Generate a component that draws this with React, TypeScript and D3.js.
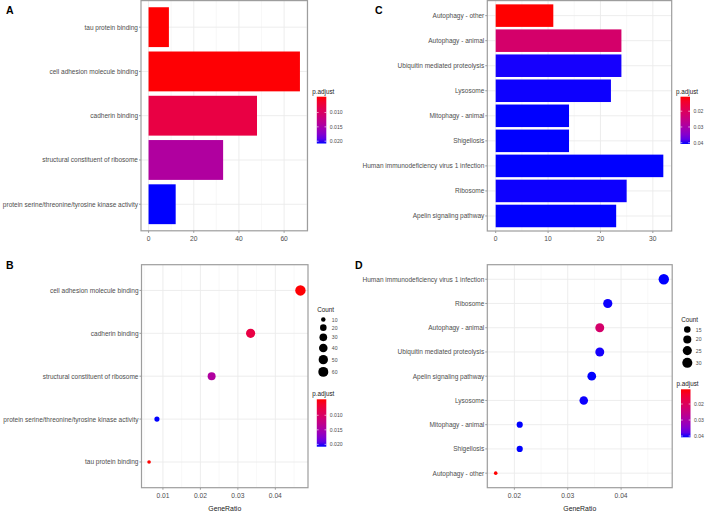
import React from "react";
import * as d3 from "d3";

// ---------- Data ----------
// Panel A (GO bar plot), top -> bottom
const A_terms = [
  "tau protein binding",
  "cell adhesion molecule binding",
  "cadherin binding",
  "structural constituent of ribosome",
  "protein serine/threonine/tyrosine kinase activity",
];
const A_counts = [9, 67, 48, 33, 12];
const A_padj = [0.0045, 0.0046, 0.0078, 0.0143, 0.0208];
const A_ticks = [0, 20, 40, 60];
const A_legendTicks = [0.01, 0.015, 0.02];

// Panel B (GO dot plot), top -> bottom
const B_terms = [
  "cell adhesion molecule binding",
  "cadherin binding",
  "structural constituent of ribosome",
  "protein serine/threonine/tyrosine kinase activity",
  "tau protein binding",
];
const B_ratio = [0.0467, 0.0334, 0.023, 0.0084, 0.0063];
const B_counts = [67, 48, 33, 12, 9];
const B_padj = [0.0046, 0.0078, 0.0143, 0.0208, 0.0045];
const B_ticks = [0.01, 0.02, 0.03, 0.04];
const B_sizeTicks = [10, 20, 30, 40, 50, 60];

// Panel C (KEGG bar plot), top -> bottom
const C_terms = [
  "Autophagy - other",
  "Autophagy - animal",
  "Ubiquitin mediated proteolysis",
  "Lysosome",
  "Mitophagy - animal",
  "Shigellosis",
  "Human immunodeficiency virus 1 infection",
  "Ribosome",
  "Apelin signaling pathway",
];
const C_counts = [11, 24, 24, 22, 14, 14, 32, 25, 23];
const C_padj = [0.0108, 0.0218, 0.0406, 0.0407, 0.0408, 0.0408, 0.0408, 0.0407, 0.0408];
const C_ticks = [0, 10, 20, 30];
const C_legendTicks = [0.02, 0.03, 0.04];

// Panel D (KEGG dot plot), top -> bottom
const D_terms = [
  "Human immunodeficiency virus 1 infection",
  "Ribosome",
  "Autophagy - animal",
  "Ubiquitin mediated proteolysis",
  "Apelin signaling pathway",
  "Lysosome",
  "Mitophagy - animal",
  "Shigellosis",
  "Autophagy - other",
];
const D_ratio = [0.048, 0.0375, 0.036, 0.036, 0.0345, 0.033, 0.021, 0.021, 0.0165];
const D_counts = [32, 25, 24, 24, 23, 22, 14, 14, 11];
const D_padj = [0.0408, 0.0407, 0.0218, 0.0406, 0.0408, 0.0407, 0.0408, 0.0408, 0.0108];
const D_ticks = [0.02, 0.03, 0.04];
const D_sizeTicks = [15, 20, 25, 30];

// ---------- Styles ----------
const FONT = "'Liberation Sans', Arial, sans-serif";
const AXIS_TEXT = "#4d4d4d";
const GRID_MAJOR = "#ebebeb";
const GRID_MINOR = "#f4f4f4";
const FRAME = "#9d9d9d";
const AX_FS = 6.5;

function colorScale(dom: [number, number]) {
  return d3
    .scaleLinear<string>()
    .domain(dom)
    .range(["#ff0000", "#0000ff"])
    .interpolate(d3.interpolateLab)
    .clamp(true);
}

function sizeScale(dom: [number, number], rmin: number, rmax: number) {
  return (c: number) => rmin + (rmax - rmin) * Math.sqrt(Math.max(0, (c - dom[0]) / (dom[1] - dom[0])));
}

type Frame = { x0: number; x1: number; y0: number; y1: number };

function minorTicks(ticks: number[], domain: number[]) {
  const step = ticks[1] - ticks[0];
  const out: number[] = [];
  const start = ticks[0] - step / 2;
  for (let v = start; v <= domain[1] + 1e-12; v += step) {
    if (v >= domain[0]) out.push(+v.toFixed(6));
  }
  return out;
}

function PanelFrame({
  f,
  terms,
  x,
  y,
  ticks,
  fmt,
  xTitle,
}: {
  f: Frame;
  terms: string[];
  x: d3.ScaleLinear<number, number>;
  y: d3.ScalePoint<string>;
  ticks: number[];
  fmt: (v: number) => string;
  xTitle?: string;
}) {
  const minors = minorTicks(ticks, x.domain());
  return (
    <g>
      <rect x={f.x0} y={f.y0} width={f.x1 - f.x0} height={f.y1 - f.y0} fill="#fff" />
      {minors.map((m) => (
        <line key={"mi" + m} x1={x(m)} x2={x(m)} y1={f.y0} y2={f.y1} stroke={GRID_MINOR} strokeWidth={0.6} />
      ))}
      {ticks.map((t) => (
        <line key={"ma" + t} x1={x(t)} x2={x(t)} y1={f.y0} y2={f.y1} stroke={GRID_MAJOR} strokeWidth={0.9} />
      ))}
      {terms.map((t) => (
        <line key={"hy" + t} x1={f.x0} x2={f.x1} y1={y(t)} y2={y(t)} stroke={GRID_MAJOR} strokeWidth={0.9} />
      ))}
      {terms.map((t) => (
        <g key={"yl" + t}>
          <line x1={f.x0 - 2} x2={f.x0} y1={y(t)} y2={y(t)} stroke="#555" strokeWidth={0.6} />
          <text
            x={f.x0 - 3}
            y={y(t)}
            textAnchor="end"
            dominantBaseline="central"
            fontSize={AX_FS}
            fill={AXIS_TEXT}
            fontFamily={FONT}
          >
            {t}
          </text>
        </g>
      ))}
      {ticks.map((t) => (
        <g key={"xl" + t}>
          <line x1={x(t)} x2={x(t)} y1={f.y1} y2={f.y1 + 2} stroke="#555" strokeWidth={0.6} />
          <text
            x={x(t)}
            y={f.y1 + 7.5}
            textAnchor="middle"
            dominantBaseline="central"
            fontSize={6.7}
            fill={AXIS_TEXT}
            fontFamily={FONT}
          >
            {fmt(t)}
          </text>
        </g>
      ))}
      {xTitle && (
        <text
          x={(f.x0 + f.x1) / 2}
          y={f.y1 + 20.5}
          textAnchor="middle"
          dominantBaseline="central"
          fontSize={6.9}
          fill="#222"
          fontFamily={FONT}
        >
          {xTitle}
        </text>
      )}
    </g>
  );
}

function Border({ f }: { f: Frame }) {
  return (
    <rect x={f.x0} y={f.y0} width={f.x1 - f.x0} height={f.y1 - f.y0} fill="none" stroke={FRAME} strokeWidth={1.2} />
  );
}

function ColorBar({
  id,
  x,
  top,
  bottom,
  dom,
  ticks,
  fmt,
}: {
  id: string;
  x: number;
  top: number;
  bottom: number;
  dom: [number, number];
  ticks: number[];
  fmt: (v: number) => string;
}) {
  const cs = colorScale(dom);
  const ys = d3.scaleLinear().domain(dom).range([top, bottom]);
  const w = 9.5;
  const stops = d3.range(0, 1.0001, 0.1);
  return (
    <g>
      <defs>
        <linearGradient id={id} x1="0" y1="0" x2="0" y2="1">
          {stops.map((s) => (
            <stop key={s} offset={s} stopColor={cs(dom[0] + s * (dom[1] - dom[0]))} />
          ))}
        </linearGradient>
      </defs>
      <text x={x - 4.5} y={top - 5.5} fontSize={6.3} fill="#222" fontFamily={FONT} dominantBaseline="central">
        p.adjust
      </text>
      <rect x={x} y={top} width={w} height={bottom - top} fill={`url(#${id})`} />
      {ticks.map((t) => (
        <g key={t}>
          <line x1={x} x2={x + 1.8} y1={ys(t)} y2={ys(t)} stroke="#fff" strokeWidth={0.6} />
          <line x1={x + w - 1.8} x2={x + w} y1={ys(t)} y2={ys(t)} stroke="#fff" strokeWidth={0.6} />
          <text
            x={x + w + 3.5}
            y={ys(t)}
            fontSize={5.1}
            fill={AXIS_TEXT}
            fontFamily={FONT}
            dominantBaseline="central"
          >
            {fmt(t)}
          </text>
        </g>
      ))}
    </g>
  );
}

function SizeLegend({
  x,
  top,
  values,
  r,
}: {
  x: number;
  top: number;
  values: number[];
  r: (c: number) => number;
}) {
  let cy = top + 6;
  const items = values.map((v, i) => {
    const rr = r(v);
    if (i > 0) cy += r(values[i - 1]) + rr + 2.6;
    return { v, rr, cy };
  });
  return (
    <g>
      <text x={x - 6} y={top - 4.5} fontSize={6.3} fill="#222" fontFamily={FONT} dominantBaseline="central">
        Count
      </text>
      {items.map((it) => (
        <g key={it.v}>
          <circle cx={x} cy={it.cy} r={it.rr} fill="#000" />
          <text x={x + 8.5} y={it.cy} fontSize={5.1} fill={AXIS_TEXT} fontFamily={FONT} dominantBaseline="central">
            {it.v}
          </text>
        </g>
      ))}
    </g>
  );
}

function BarPanel({
  f,
  terms,
  counts,
  padj,
  ticks,
  cdom,
}: {
  f: Frame;
  terms: string[];
  counts: number[];
  padj: number[];
  ticks: number[];
  cdom: [number, number];
}) {
  const max = d3.max(counts) as number;
  const x = d3.scaleLinear().domain([-0.05 * max, max * 1.05]).range([f.x0, f.x1]);
  const y = d3.scalePoint<string>().domain(terms).range([f.y0, f.y1]).padding(0.6);
  const bw = y.step() * 0.9;
  const cs = colorScale(cdom);
  return (
    <g>
      <PanelFrame f={f} terms={terms} x={x} y={y} ticks={ticks} fmt={(v) => String(v)} />
      {terms.map((t, i) => (
        <rect
          key={t}
          x={x(0)}
          y={(y(t) as number) - bw / 2}
          width={x(counts[i]) - x(0)}
          height={bw}
          fill={cs(padj[i])}
        />
      ))}
      <Border f={f} />
    </g>
  );
}

function DotPanel({
  f,
  terms,
  ratio,
  counts,
  padj,
  ticks,
  cdom,
  r,
  fmt,
}: {
  f: Frame;
  terms: string[];
  ratio: number[];
  counts: number[];
  padj: number[];
  ticks: number[];
  cdom: [number, number];
  r: (c: number) => number;
  fmt: (v: number) => string;
}) {
  const [mn, mx] = d3.extent(ratio) as [number, number];
  const pad = (mx - mn) * 0.05;
  const x = d3.scaleLinear().domain([mn - pad, mx + pad]).range([f.x0, f.x1]);
  const y = d3.scalePoint<string>().domain(terms).range([f.y0, f.y1]).padding(0.6);
  const cs = colorScale(cdom);
  return (
    <g>
      <PanelFrame f={f} terms={terms} x={x} y={y} ticks={ticks} fmt={fmt} xTitle="GeneRatio" />
      {terms.map((t, i) => (
        <circle key={t} cx={x(ratio[i])} cy={y(t) as number} r={r(counts[i])} fill={cs(padj[i])} />
      ))}
      <Border f={f} />
    </g>
  );
}

function Letter({ x, y, s }: { x: number; y: number; s: string }) {
  return (
    <text x={x} y={y} fontSize={10.5} fontWeight="bold" fill="#000" fontFamily={FONT}>
      {s}
    </text>
  );
}

export default function App() {
  const fA: Frame = { x0: 141, x1: 307.5, y0: 0.6, y1: 230.8 };
  const fB: Frame = { x0: 141.5, x1: 308, y0: 264.7, y1: 487.7 };
  const fC: Frame = { x0: 487.3, x1: 671.7, y0: 0.6, y1: 231 };
  const fD: Frame = { x0: 487.3, x1: 672.2, y0: 264.7, y1: 487.7 };

  const domAB: [number, number] = [0.0045, 0.0208];
  const domCD: [number, number] = [0.0108, 0.0408];
  const rB = sizeScale([9, 67], 1.8, 5.2);
  const rD = sizeScale([11, 32], 1.8, 5.2);
  const fmt3 = (v: number) => v.toFixed(3);
  const fmt2 = (v: number) => v.toFixed(2);

  return (
    <svg
      width={709}
      height={513}
      style={{ position: "absolute", left: 0, top: 0, background: "#fff" }}
      fontFamily={FONT}
    >
      <rect width={709} height={513} fill="#fff" />
      <BarPanel f={fA} terms={A_terms} counts={A_counts} padj={A_padj} ticks={A_ticks} cdom={domAB} />
      <ColorBar id="gA" x={316.8} top={96.7} bottom={143.5} dom={domAB} ticks={A_legendTicks} fmt={fmt3} />
      <Letter x={6} y={14} s="A" />

      <DotPanel
        f={fB}
        terms={B_terms}
        ratio={B_ratio}
        counts={B_counts}
        padj={B_padj}
        ticks={B_ticks}
        cdom={domAB}
        r={rB}
        fmt={fmt2}
      />
      <SizeLegend x={323.3} top={313.5} values={B_sizeTicks} r={rB} />
      <ColorBar id="gB" x={316.8} top={399.3} bottom={446.7} dom={domAB} ticks={A_legendTicks} fmt={fmt3} />
      <Letter x={6} y={268.5} s="B" />

      <BarPanel f={fC} terms={C_terms} counts={C_counts} padj={C_padj} ticks={C_ticks} cdom={domCD} />
      <ColorBar id="gC" x={680.5} top={96.7} bottom={144} dom={domCD} ticks={C_legendTicks} fmt={fmt2} />
      <Letter x={375} y={14} s="C" />

      <DotPanel
        f={fD}
        terms={D_terms}
        ratio={D_ratio}
        counts={D_counts}
        padj={D_padj}
        ticks={D_ticks}
        cdom={domCD}
        r={rD}
        fmt={fmt2}
      />
      <SizeLegend x={687.3} top={323.5} values={D_sizeTicks} r={rD} />
      <ColorBar id="gD" x={681} top={389.3} bottom={437.3} dom={domCD} ticks={C_legendTicks} fmt={fmt2} />
      <Letter x={355} y={268.5} s="D" />
    </svg>
  );
}
